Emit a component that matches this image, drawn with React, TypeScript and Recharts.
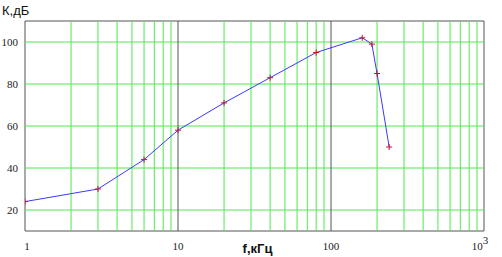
import React from "react";
import { LineChart, Line, XAxis, YAxis, ReferenceLine, ReferenceArea, Label } from "recharts";

const freqs = [1, 3, 6, 10, 20, 40, 80, 160, 185, 200, 240];
const gains = [24, 30, 44, 58, 71, 83, 95, 102, 99, 85, 50];
const xTicks = [1, 10, 100, 1000];
const yTicks = [20, 40, 60, 80, 100];
const minorX = [2, 3, 4, 5, 6, 7, 8, 9, 20, 30, 40, 50, 60, 70, 80, 90, 200, 300, 400, 500, 600, 700, 800, 900];
const majorX = [10, 100];

const data = freqs.map((f, i) => ({ f, k: gains[i] }));

const GREEN = "#4fe84f";
const SERIF = "'Liberation Serif', 'Times New Roman', serif";
const SANS = "'Liberation Sans', Arial, sans-serif";

const PlusDot = (props: any) => {
  const { cx, cy } = props;
  if (cx == null || cy == null) return null;
  return (
    <g>
      <line x1={cx - 3} y1={cy} x2={cx + 3} y2={cy} stroke="#c8103c" strokeWidth={1} />
      <line x1={cx} y1={cy - 3} x2={cx} y2={cy + 3} stroke="#c8103c" strokeWidth={1} />
    </g>
  );
};

const XTick = (props: any) => {
  const { x, y, payload } = props;
  const v = payload.value;
  if (v === 1000) {
    return (
      <text x={x - 4} y={y + 11} textAnchor="middle" fontFamily={SERIF} fontSize={11} fill="#222">
        10
        <tspan dy={-6} fontSize={11}>3</tspan>
      </text>
    );
  }
  return (
    <text x={v === 1 ? x + 2 : x} y={y + 11} textAnchor="middle" fontFamily={SERIF} fontSize={11} fill="#222">
      {String(v)}
    </text>
  );
};

export default function App() {
  return (
    <div style={{ position: "absolute", left: 0, top: 0, background: "#fff" }}>
      <LineChart width={502} height={257} data={data} margin={{ top: 21, right: 18, bottom: 0, left: 0 }}>
        {minorX.map((v) => (
          <ReferenceLine key={"mx" + v} x={v} stroke={GREEN} strokeWidth={1} />
        ))}
        {yTicks.map((v) => (
          <ReferenceLine key={"hy" + v} y={v} stroke={GREEN} strokeWidth={1} />
        ))}
        {majorX.map((v) => (
          <ReferenceLine key={"Mx" + v} x={v} stroke="#555" strokeWidth={1} />
        ))}
        <ReferenceArea x1={1} x2={1000} y1={10} y2={110} stroke="#555" strokeWidth={1} fill="none" fillOpacity={0} />
        <XAxis
          dataKey="f"
          type="number"
          scale="log"
          domain={[1, 1000]}
          ticks={xTicks}
          allowDataOverflow
          axisLine={false}
          tickLine={false}
          height={26}
          tick={<XTick />}
          interval={0}
        >
          <Label
            content={(p: any) => {
              const vb = p.viewBox;
              return (
                <text x={vb.x + vb.width / 2 + 3} y={vb.y + 22} textAnchor="middle" fontFamily={SANS} fontWeight="bold" fontSize={13} fill="#111">
                  f,кГц
                </text>
              );
            }}
          />
        </XAxis>
        <YAxis
          type="number"
          domain={[10, 110]}
          ticks={yTicks}
          allowDataOverflow
          axisLine={false}
          tickLine={false}
          width={25}
          tick={{ fontFamily: SERIF, fontSize: 11, fill: "#222" }}
          tickMargin={1}
        >
          <Label
            content={(p: any) => {
              const vb = p.viewBox;
              return (
                <text x={2} y={vb.y - 6} textAnchor="start" fontFamily={SANS} fontSize={13} fill="#111">
                  К,дБ
                </text>
              );
            }}
          />
        </YAxis>
        <Line
          type="linear"
          dataKey="k"
          stroke="#3a3aff"
          strokeWidth={1}
          dot={<PlusDot />}
          activeDot={false}
          isAnimationActive={false}
        />
      </LineChart>
    </div>
  );
}
